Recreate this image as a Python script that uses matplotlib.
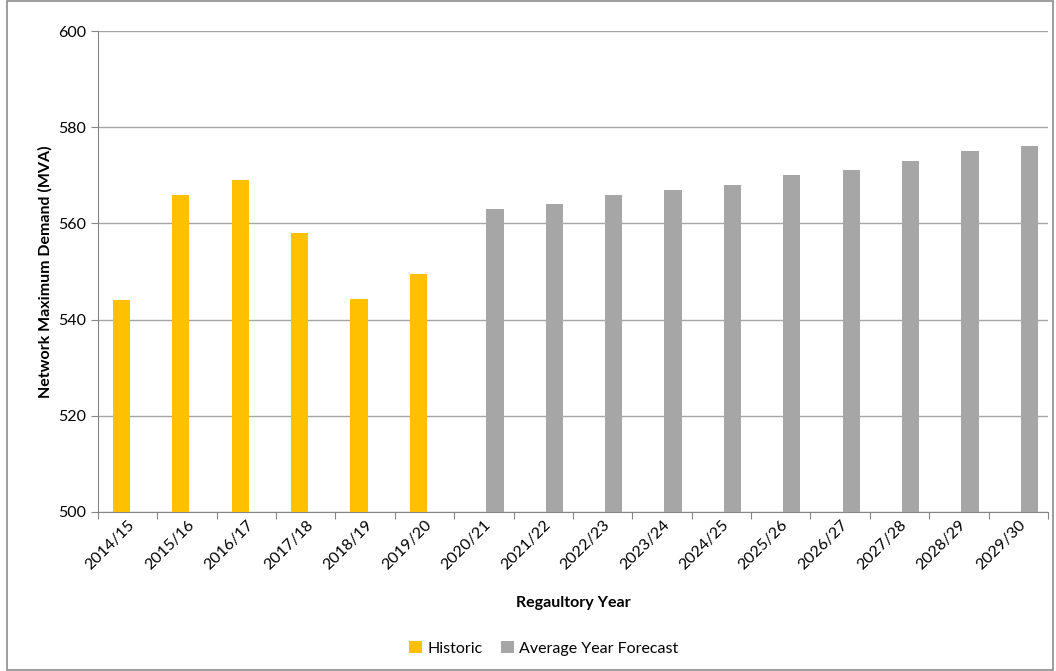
import matplotlib.pyplot as plt
from matplotlib.patches import Rectangle
import numpy as np

plt.rcParams["font.family"] = ["Lato", "DejaVu Sans"]

years = [
    "2014/15", "2015/16", "2016/17", "2017/18", "2018/19", "2019/20",
    "2020/21", "2021/22", "2022/23", "2023/24", "2024/25", "2025/26",
    "2026/27", "2027/28", "2028/29", "2029/30",
]
historic = [544, 566, 569, 558, 544.2, 549.4] + [np.nan] * 10
forecast = [np.nan] * 6 + [563, 564, 566, 567, 568, 570, 571, 573, 575, 576]

fig = plt.figure(figsize=(10.56, 6.71), dpi=100)
ax = fig.add_axes([0.0928, 0.237, 0.8996, 0.7168])

# chart-area border like the Excel frame
fig.patches.append(Rectangle((0.007, 0.002), 0.99, 0.996, transform=fig.transFigure,
                             fill=False, edgecolor="#8c8c8c", linewidth=1.2))

x = np.arange(len(years))
w = 0.29
ax.bar(x - w / 2 + 0.04, historic, width=w, color="#FFC000", label="Historic", zorder=3)
ax.bar(x + w / 2 + 0.04, forecast, width=w, color="#A6A6A6", label="Average Year Forecast", zorder=3)

ax.set_xlim(-0.5, len(years) - 0.5)
ax.set_ylim(500, 600)
ax.set_yticks(range(500, 601, 20))
ax.yaxis.grid(True, color="#A6A6A6", linewidth=1, zorder=0)

# ticks at category boundaries, labels at centres
ax.set_xticks(np.arange(-0.5, len(years)), labels=[""] * (len(years) + 1))
ax.set_xticks(x, labels=years, minor=True)
ax.tick_params(axis="x", which="major", length=5, color="#868686")
ax.tick_params(axis="x", which="minor", length=0, labelsize=11.5, pad=4)
ax.tick_params(axis="y", length=5, color="#868686", labelsize=11.5)
for lab in ax.get_xticklabels(minor=True):
    lab.set_rotation(45)
    lab.set_ha("right")
    lab.set_rotation_mode("anchor")

for s in ["top", "right"]:
    ax.spines[s].set_visible(False)
for s in ["left", "bottom"]:
    ax.spines[s].set_color("#868686")

ax.set_xlabel("Regaultory Year", fontsize=11.5, fontweight="bold", labelpad=17)
ax.set_ylabel("Network Maximum Demand (MVA)", fontsize=11.5, fontweight="bold", labelpad=4)

fig.legend(loc="center", bbox_to_anchor=(0.515, 0.034), ncol=2, frameon=False,
           fontsize=11.5, handlelength=0.8, handleheight=0.8, handletextpad=0.3,
           columnspacing=1.2)

fig.savefig("out.png")
